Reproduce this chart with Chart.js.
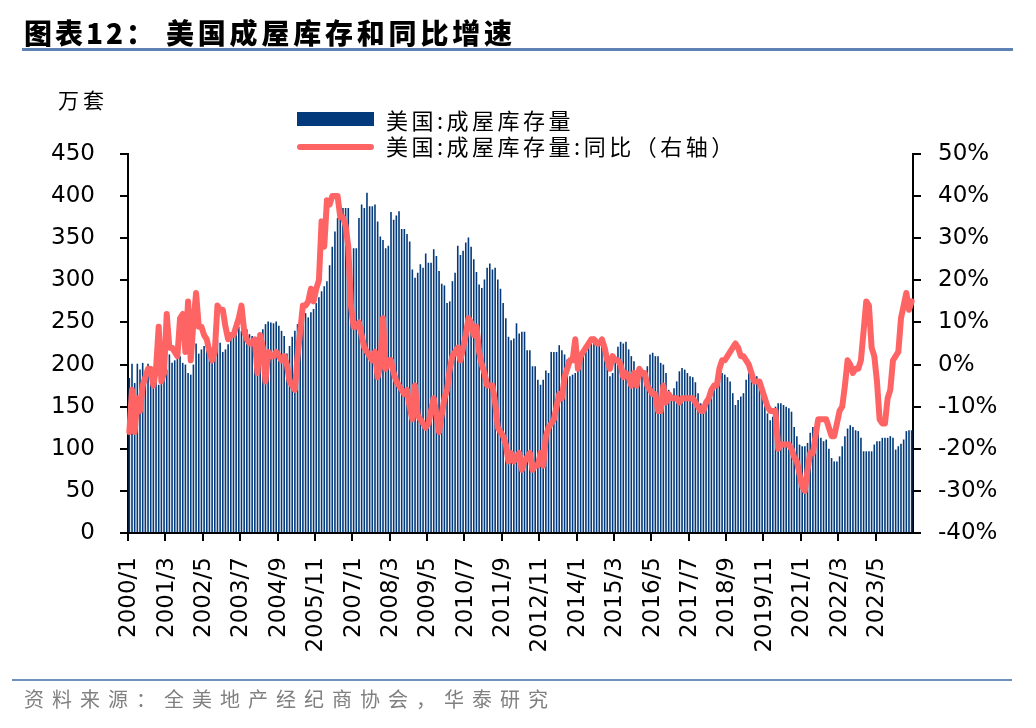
<!DOCTYPE html>
<html>
<head>
<meta charset="utf-8">
<script src="https://cdn.jsdelivr.net/npm/chart.js@4.4.1/dist/chart.umd.min.js"></script>
<style>
  body { margin: 0; background: #fff; }
  #wrap { position: relative; width: 1036px; height: 728px; overflow: hidden; }
  #chart { position: absolute; left: 0; top: 0; }
  .txt { position: absolute; white-space: nowrap; line-height: 1; font-family: "Noto Sans CJK SC", sans-serif; color: #000; }
  .rule { position: absolute; background: #5e82b4; }
</style>
</head>
<body>
<div id="wrap">
  <canvas id="chart" width="1036" height="728"></canvas>
  <div class="txt" style="left:24px;top:18px;font-size:28px;font-weight:900;letter-spacing:3px;">图表12：</div>
  <div class="txt" style="left:166px;top:18px;font-size:28px;font-weight:900;letter-spacing:3.8px;">美国成屋库存和同比增速</div>
  <div class="rule" style="left:22px;top:48px;width:991px;height:3px;"></div>
  <div class="txt" style="left:58px;top:89px;font-size:21px;letter-spacing:4px;">万套</div>
  <div style="position:absolute;left:297px;top:112px;width:77px;height:14px;background:#023a7c;"></div>
  <div style="position:absolute;left:297px;top:144px;width:77px;height:6px;border-radius:3px;background:#ff6464;"></div>
  <div class="txt" style="left:386px;top:108px;font-size:22px;letter-spacing:3.5px;">美国:成屋库存量</div>
  <div class="txt" style="left:386px;top:134px;font-size:22px;letter-spacing:3.5px;">美国:成屋库存量:同比（右轴）</div>
  <div class="rule" style="left:12px;top:679px;width:1000px;height:2px;background:#6f8fbd;"></div>
  <div class="txt" style="left:24px;top:689px;font-size:20px;letter-spacing:8px;color:#808080;">资料来源：全美地产经纪商协会，华泰研究</div>
</div>
<script>
// 美国成屋库存（万套），2000/1 起按月
const inventory = [
  184,201,178,201,194,202,184,201,194,183,180,176,
  180,186,194,212,202,205,212,210,202,200,190,188,
  200,225,213,218,222,228,224,220,230,229,226,215,
  218,224,233,240,249,245,240,238,242,236,234,224,
  230,236,242,248,251,250,249,251,246,240,234,213,
  222,233,240,248,251,258,261,256,262,266,273,280,
  287,293,299,318,340,358,374,380,386,386,386,316,
  338,338,374,390,386,404,388,388,390,370,352,348,
  338,341,381,372,377,382,361,361,355,346,313,303,
  309,319,315,332,321,321,337,329,311,296,294,273,
  275,299,309,341,330,335,345,351,340,325,310,295,
  291,301,315,320,313,315,301,290,273,255,233,229,
  231,249,237,239,239,217,217,198,198,182,176,182,
  193,190,215,215,215,223,217,212,206,186,188,190,
  194,214,218,215,225,229,233,231,229,233,214,198,
  186,190,210,221,227,225,227,218,210,204,194,188,
  186,190,198,212,214,210,210,202,200,190,170,162,
  172,180,192,196,194,190,186,185,179,166,154,146,
  154,156,166,178,188,192,190,188,185,180,166,152,
  158,162,166,182,190,192,188,186,178,170,158,142,
  134,138,150,154,154,152,150,148,144,126,115,105,
  103,103,107,119,126,127,122,113,109,111,100,89,
  85,85,91,103,115,124,128,126,122,121,113,97,
  97,97,97,105,109,109,113,113,113,115,113,99,
  103,106,111,121,122,122
];

// 同比（%），右轴
const yoy = [
  -16,-6,-16,-8,-11,-5,-3,-1,-1,-5,-1,9,
  -4,-2,12,4,4,3,2,11,12,3,15,1,
  10,17,9,9,7,6,3,1,3,14,13,13,
  9,6,7,7,9,11,14,8,6,5,5,6,
  -2,7,4,-4,3,2,2,3,2,1,2,0,
  -4,-5,-6,2,8,14,14,15,18,15,18,20,
  34,28,39,38,40,40,40,35,35,33,28,14,
  9,9,10,7,4,3,2,1,3,-3,0,11,
  -1,1,1,-2,-4,-5,-6,-7,-6,-10,-13,-5,
  -12,-13,-14,-15,-14,-11,-8,-12,-16,-12,-8,-6,
  -1,2,3,4,1,4,7,11,10,7,9,3,
  0,-2,-5,-5,-5,-9,-15,-16,-17,-19,-23,-21,
  -23,-22,-21,-25,-23,-22,-21,-25,-24,-24,-21,-24,
  -17,-15,-14,-13,-10,-7,-8,-3,-1,1,1,6,
  -1,2,3,4,5,6,6,5,5,6,4,1,
  -1,2,1,1,0,-3,-2,-3,-5,-2,-5,-1,
  -2,-2,-5,-6,-7,-7,-11,-11,-5,-9,-7,-8,
  -8,-8,-9,-8,-8,-8,-8,-8,-9,-10,-11,-11,
  -9,-8,-6,-5,-5,-1,1,1,2,3,4,5,
  4,2,2,1,0,-2,-4,-4,-4,-6,-8,-10,
  -11,-11,-11,-20,-19,-19,-19,-19,-20,-22,-23,-26,
  -29,-30,-25,-21,-21,-17,-13,-13,-13,-13,-15,-17,
  -17,-14,-11,-10,-5,1,0,-2,-1,-1,1,8,
  15,14,4,2,-4,-13,-14,-14,-8,-6,1,2,
  3,11,14,17,13,15
];

const months = [];
for (let y = 2000; months.length < inventory.length; y++) {
  for (let m = 1; m <= 12 && months.length < inventory.length; m++) {
    months.push(y + '/' + m);
  }
}

const labelEvery = 14;
const axisFont = { family: 'DejaVu Sans', size: 23 };

const ctx = document.getElementById('chart').getContext('2d');
new Chart(ctx, {
  type: 'bar',
  data: {
    labels: months,
    datasets: [
      {
        type: 'line',
        label: '美国:成屋库存量:同比（右轴）',
        data: yoy,
        yAxisID: 'y1',
        borderColor: '#ff6464',
        borderWidth: 6,
        pointRadius: 0,
        tension: 0,
        borderJoinStyle: 'round',
        borderCapStyle: 'round',
        order: 0,
      },
      {
        type: 'bar',
        label: '美国:成屋库存量',
        data: inventory,
        yAxisID: 'y',
        backgroundColor: '#023a7c',
        barPercentage: 0.6,
        categoryPercentage: 1,
        order: 1,
      },
    ],
  },
  options: {
    responsive: false,
    animation: false,
    layout: { padding: { top: 154, left: 0, right: 0, bottom: 0 } },
    plugins: {
      legend: { display: false },
      tooltip: { enabled: false },
    },
    scales: {
      x: {
        offset: true,
        grid: {
          offset: true,
          drawOnChartArea: false,
          tickLength: 8,
          lineWidth: 2,
          color: (c) => (c.index % labelEvery === 0 ? '#000' : 'rgba(0,0,0,0)'),
        },
        border: { color: '#000', width: 2 },
        ticks: {
          autoSkip: false,
          minRotation: 90,
          maxRotation: 90,
          padding: 16,
          color: '#000',
          font: axisFont,
          callback: (v, i) => (i % labelEvery === 0 ? months[i] : ''),
        },
        afterFit: (s) => { s.height = 728 - 533; },
      },
      y: {
        position: 'left',
        min: 0,
        max: 450,
        ticks: { stepSize: 50, padding: 25, color: '#000', font: axisFont },
        grid: { drawOnChartArea: false, tickLength: 8, lineWidth: 2, color: '#000' },
        border: { color: '#000', width: 2 },
        afterFit: (s) => { s.width = 128; },
      },
      y1: {
        position: 'right',
        min: -40,
        max: 50,
        ticks: {
          stepSize: 10,
          padding: 17,
          color: '#000',
          font: axisFont,
          callback: (v) => v + '%',
        },
        grid: { drawOnChartArea: false, tickLength: 8, lineWidth: 2, color: '#000' },
        border: { color: '#000', width: 2 },
        afterFit: (s) => { s.width = 1036 - 913; },
      },
    },
  },
});
</script>
</body>
</html>
